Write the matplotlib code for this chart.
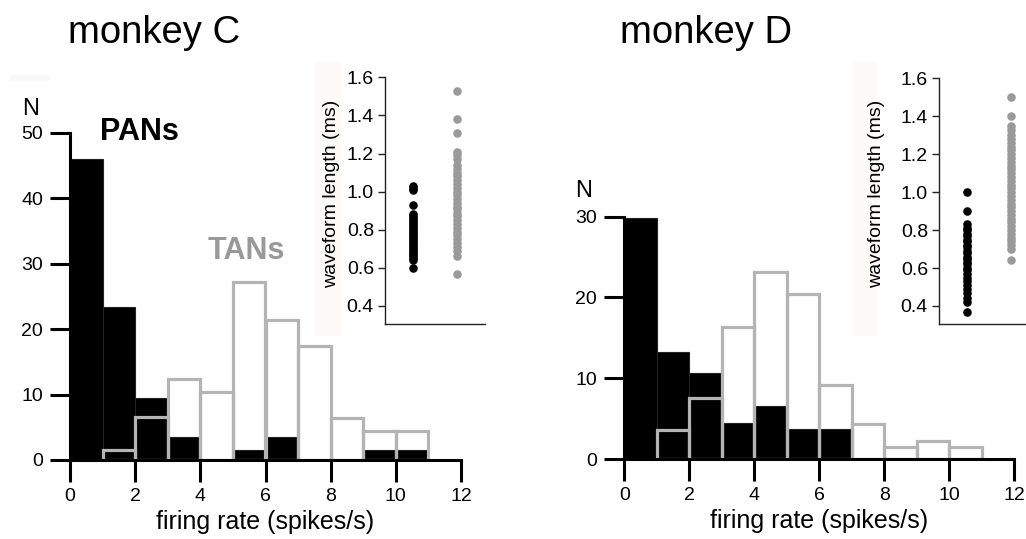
import matplotlib
matplotlib.use('Agg')
import matplotlib.pyplot as plt
from matplotlib.patches import Rectangle

plt.rcParams['font.family'] = ['Liberation Sans', 'DejaVu Sans']

# ---------------- data ----------------
bin_left = [0, 1, 2, 3, 4, 5, 6, 7, 8, 9, 10]

pan_c = [46, 23.3, 9.5, 3.5, 0, 1.5, 3.5, 0, 0, 1.5, 1.5]
tan_c = [0, 1.5, 6.5, 12.4, 10.4, 27.2, 21.4, 17.4, 6.4, 4.5, 4.5]

pan_d = [29.9, 13.3, 10.6, 4.5, 6.6, 3.75, 3.75, 0, 0, 0, 0]
tan_d = [0, 3.6, 7.6, 16.4, 23.2, 20.4, 9.2, 4.3, 1.5, 2.2, 1.5]

x_ticks = [0, 2, 4, 6, 8, 10, 12]
y_ticks_c = [0, 10, 20, 30, 40, 50]
y_ticks_d = [0, 10, 20, 30]
inset_ticks = [0.4, 0.6, 0.8, 1.0, 1.2, 1.4, 1.6]

wf_pan_c = [0.60, 0.64, 0.65, 0.66, 0.67, 0.68, 0.69, 0.70, 0.71, 0.72, 0.73,
            0.74, 0.75, 0.76, 0.77, 0.78, 0.79, 0.80, 0.81, 0.82, 0.83, 0.84,
            0.85, 0.86, 0.87, 0.88, 0.93, 1.01, 1.02, 1.03]
wf_tan_c = [0.57, 0.66, 0.69, 0.71, 0.73, 0.75, 0.77, 0.79, 0.81, 0.83, 0.85,
            0.87, 0.89, 0.91, 0.92, 0.94, 0.96, 0.98, 1.00, 1.02, 1.04, 1.06,
            1.08, 1.10, 1.12, 1.14, 1.17, 1.19, 1.21, 1.31, 1.38, 1.53]
wf_pan_d = [0.37, 0.42, 0.44, 0.47, 0.49, 0.51, 0.53, 0.55, 0.57, 0.59, 0.60,
            0.62, 0.63, 0.65, 0.66, 0.68, 0.69, 0.71, 0.72, 0.74, 0.75, 0.77,
            0.78, 0.80, 0.81, 0.83, 0.90, 1.00]
wf_tan_d = [0.64, 0.70, 0.72, 0.74, 0.76, 0.78, 0.80, 0.82, 0.84, 0.86, 0.88,
            0.90, 0.92, 0.94, 0.96, 0.98, 1.00, 1.02, 1.04, 1.06, 1.08, 1.10,
            1.12, 1.14, 1.16, 1.18, 1.20, 1.22, 1.24, 1.26, 1.28, 1.30, 1.33,
            1.35, 1.40, 1.50]

GRAY_LINE = '#b4b4b4'
GRAY_TEXT = '#999999'
GRAY_DOT = '#9a9a9a'

W, H = 1026, 539
fig = plt.figure(figsize=(W / 100, H / 100), dpi=100)
fig.patch.set_facecolor('white')

def fx(px):
    return px / W

def fy(py):
    return 1 - py / H

# faint scan artefacts
for (x0, y0, x1, y1, c) in [(315, 62, 340, 335, '#fdfafa'),
                            (852, 62, 876, 335, '#fdfafa'),
                            (10, 75, 48, 80, '#f8f8f8')]:
    fig.patches.append(Rectangle((fx(x0), fy(y1)), fx(x1) - fx(x0), fy(y0) - fy(y1),
                                 transform=fig.transFigure, color=c, zorder=0))


def hist_panel(rect, pan, tan, yticks, ymax):
    ax = fig.add_axes(rect)
    ax.set_facecolor('none')
    ax.bar(bin_left, pan, width=1, align='edge', color='black',
           edgecolor='#222222', linewidth=0.8, zorder=2)
    tl = [b for b, v in zip(bin_left, tan) if v > 0]
    tv = [v for v in tan if v > 0]
    ax.bar(tl, tv, width=1, align='edge', fill=False,
           edgecolor=GRAY_LINE, linewidth=2.3, zorder=3)
    ax.set_xlim(0, 12)
    ax.set_ylim(0, ymax)
    ax.set_xticks(x_ticks)
    ax.set_yticks(yticks)
    for s in ['top', 'right']:
        ax.spines[s].set_visible(False)
    for s in ['left', 'bottom']:
        ax.spines[s].set_linewidth(2.2)
        ax.spines[s].set_zorder(5)
    ax.tick_params(axis='y', direction='out', length=14.5, width=2.2,
                   labelsize=14, pad=5)
    ax.tick_params(axis='x', direction='out', length=15.5, width=2.2,
                   labelsize=14, pad=5)
    ax.set_xlabel('firing rate (spikes/s)', fontsize=18, labelpad=3)
    return ax


def inset_panel(rect, pan_vals, tan_vals):
    ax = fig.add_axes(rect)
    ax.set_facecolor('none')
    ax.scatter([1] * len(pan_vals), pan_vals, s=38, color='black',
               linewidths=0, zorder=3, clip_on=False)
    ax.scatter([2] * len(tan_vals), tan_vals, s=38, color=GRAY_DOT,
               linewidths=0, zorder=3, clip_on=False)
    ax.set_xlim(0.364, 2.636)
    ax.set_ylim(0.305, 1.6)
    ax.set_xticks([])
    ax.set_yticks(inset_ticks)
    ax.set_yticklabels(['%.1f' % t for t in inset_ticks])
    for s in ['top', 'right']:
        ax.spines[s].set_visible(False)
    for s in ['left', 'bottom']:
        ax.spines[s].set_linewidth(1.0)
        ax.spines[s].set_color('#222222')
    ax.tick_params(axis='y', direction='out', length=5, width=1.0,
                   labelsize=14, pad=3, color='#222222')
    return ax


# left (monkey C)
axC = hist_panel([fx(70), fy(460), fx(461) - fx(70), fy(132.7) - fy(460)],
                 pan_c, tan_c, y_ticks_c, 50)
# right (monkey D)
axD = hist_panel([fx(624.3), fy(459), fx(1014.3) - fx(624.3), fy(216.7) - fy(459)],
                 pan_d, tan_d, y_ticks_d, 30)

insC = inset_panel([fx(385), fy(324), fx(485) - fx(385), fy(77.3) - fy(324)],
                   wf_pan_c, wf_tan_c)
insD = inset_panel([fx(939), fy(324), fx(1039) - fx(939), fy(78.3) - fy(324)],
                   wf_pan_d, wf_tan_d)

fig.text(fx(332), fy(194), 'waveform length (ms)', rotation=90, fontsize=14,
         ha='center', va='center')
fig.text(fx(877), fy(194), 'waveform length (ms)', rotation=90, fontsize=14,
         ha='center', va='center')

# titles and labels
fig.text(fx(68), fy(43), 'monkey C', fontsize=27.5, ha='left', va='baseline')
fig.text(fx(620), fy(43), 'monkey D', fontsize=27.5, ha='left', va='baseline')
fig.text(fx(22), fy(115), 'N', fontsize=17, ha='left', va='baseline')
fig.text(fx(575), fy(197), 'N', fontsize=17, ha='left', va='baseline')
fig.text(fx(100), fy(140), 'PANs', fontsize=22, fontweight='bold',
         ha='left', va='baseline', color='black')
fig.text(fx(208), fy(259), 'TANs', fontsize=22, fontweight='bold',
         ha='left', va='baseline', color=GRAY_TEXT)

fig.savefig('out.png', dpi=100)
